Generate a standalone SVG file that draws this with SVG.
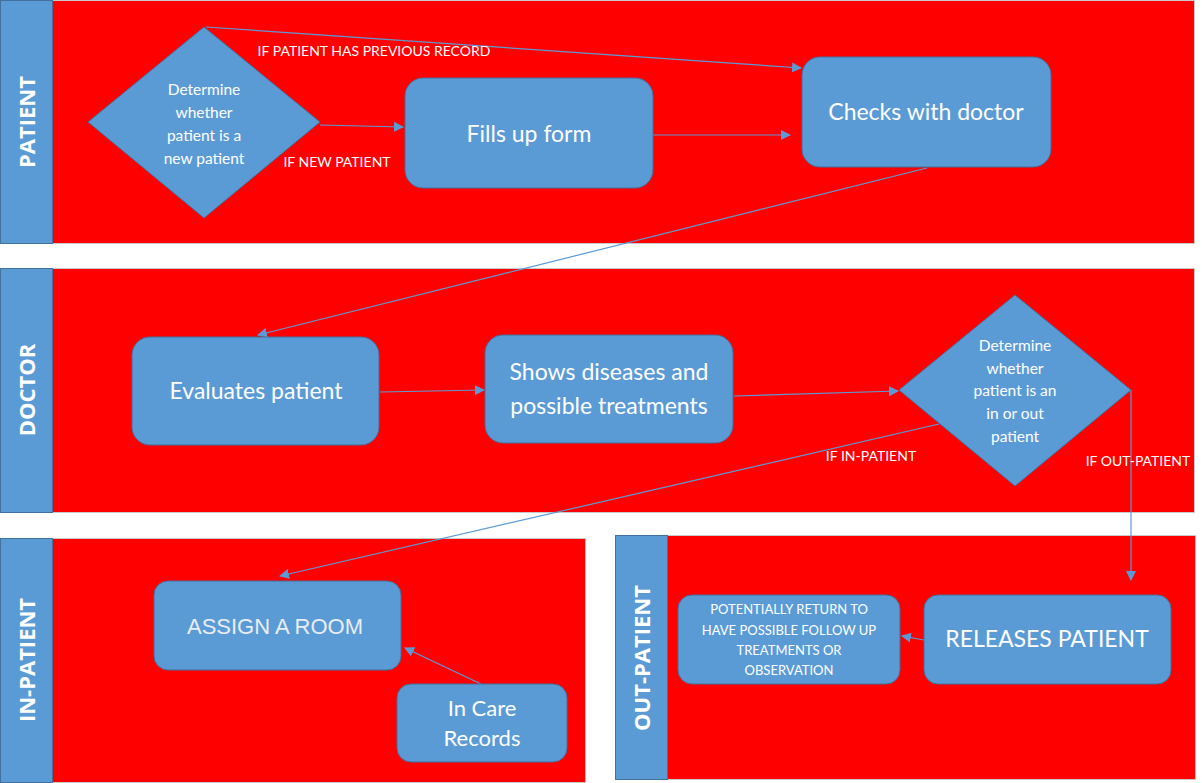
<svg xmlns="http://www.w3.org/2000/svg" width="1202" height="783" viewBox="0 0 1202 783">
<defs>
<style>
.lane{fill:#FF0000;stroke:#c9c9c9;stroke-width:1}
.hdr{fill:#5B9BD5;stroke:#41719C;stroke-width:1}
.hdrt{fill:#fff;font-family:"Open Sans","Liberation Sans",sans-serif;font-weight:bold;font-size:22px;text-anchor:middle}
.box{fill:#5B9BD5;stroke:#41719C;stroke-width:1}
.t{fill:#fff;font-family:Lato,"Liberation Sans",sans-serif;text-anchor:middle}
.big{font-size:23px}
.sm{font-size:15.5px}
.lbl{fill:#fff;font-family:Lato,"Liberation Sans",sans-serif;font-size:14px;text-anchor:middle}
.conn{fill:none;stroke:#5B9BD5;stroke-width:1.2}
</style>
<marker id="arr" viewBox="0 0 10 10" refX="9" refY="5" markerWidth="10" markerHeight="10" markerUnits="userSpaceOnUse" orient="auto">
<path d="M0,0 L10,5 L0,10 z" fill="#5B9BD5"/>
</marker>
</defs>

<g id="lane-patient">
<rect class="lane" x="0.5" y="0.5" width="1194" height="243"/>
<rect class="hdr" x="0.5" y="0.5" width="52" height="243"/>
<text class="hdrt" transform="translate(35,122) rotate(-90)">PATIENT</text>
</g>
<g id="lane-doctor">
<rect class="lane" x="0.5" y="268.5" width="1194" height="244"/>
<rect class="hdr" x="0.5" y="268.5" width="52" height="244"/>
<text class="hdrt" transform="translate(35,390) rotate(-90)">DOCTOR</text>
</g>
<g id="lane-inpatient">
<rect class="lane" x="0.5" y="538.5" width="585" height="244"/>
<rect class="hdr" x="0.5" y="538.5" width="52" height="244"/>
<text class="hdrt" transform="translate(35,660) rotate(-90)">IN-PATIENT</text>
</g>
<g id="lane-outpatient">
<rect class="lane" x="615.5" y="535.5" width="580" height="244"/>
<rect class="hdr" x="615.5" y="535.5" width="52" height="244"/>
<text class="hdrt" transform="translate(650,658) rotate(-90)">OUT-PATIENT</text>
</g>

<g id="connectors">
<line class="conn" x1="206" y1="27" x2="801" y2="68" marker-end="url(#arr)"/>
<line class="conn" x1="320" y1="125" x2="403" y2="127" marker-end="url(#arr)"/>
<line class="conn" x1="653" y1="135" x2="790" y2="135" marker-end="url(#arr)"/>
<line class="conn" x1="927" y1="168" x2="258" y2="335" marker-end="url(#arr)"/>
<line class="conn" x1="380" y1="392" x2="484" y2="390" marker-end="url(#arr)"/>
<line class="conn" x1="734" y1="396" x2="898" y2="391" marker-end="url(#arr)"/>
<line class="conn" x1="939" y1="424" x2="280" y2="576" marker-end="url(#arr)"/>
<polyline class="conn" points="1131,390 1131,580" marker-end="url(#arr)"/>
<line class="conn" x1="481" y1="684" x2="405" y2="648" marker-end="url(#arr)"/>
<line class="conn" x1="924" y1="640" x2="902" y2="636" marker-end="url(#arr)"/>
<text class="lbl" x="374" y="56">IF PATIENT HAS PREVIOUS RECORD</text>
<text class="lbl" x="337" y="167">IF NEW PATIENT</text>
<text class="lbl" x="871" y="461">IF IN-PATIENT</text>
<text class="lbl" x="1138" y="466">IF OUT-PATIENT</text>
</g>

<g id="decide-new">
<polygon class="box" points="204,27 320,122 204,218 88,122"/>
<text class="t sm" x="204" y="95">Determine</text>
<text class="t sm" x="204" y="118">whether</text>
<text class="t sm" x="204" y="141">patient is a</text>
<text class="t sm" x="204" y="164">new patient</text>
</g>
<g id="fills-form">
<rect class="box" x="405" y="78" width="248" height="110" rx="18"/>
<text class="t big" x="529" y="142">Fills up form</text>
</g>
<g id="checks-doctor">
<rect class="box" x="802" y="57" width="249" height="110" rx="18"/>
<text class="t big" x="926" y="120">Checks with doctor</text>
</g>
<g id="evaluates">
<rect class="box" x="132" y="337" width="247" height="108" rx="18"/>
<text class="t big" x="256" y="399">Evaluates patient</text>
</g>
<g id="shows">
<rect class="box" x="485" y="335" width="248" height="108" rx="18"/>
<text class="t big" x="609" y="380">Shows diseases and</text>
<text class="t big" x="609" y="414">possible treatments</text>
</g>
<g id="decide-inout">
<polygon class="box" points="1015,295 1131,390 1015,486 899,390"/>
<text class="t sm" x="1015" y="351">Determine</text>
<text class="t sm" x="1015" y="374">whether</text>
<text class="t sm" x="1015" y="396">patient is an</text>
<text class="t sm" x="1015" y="419">in or out</text>
<text class="t sm" x="1015" y="442">patient</text>
</g>
<g id="assign-room">
<rect class="box" x="154" y="581" width="247" height="89" rx="14"/>
<text x="275" y="634" fill="#e8edf2" font-family="'Liberation Sans',Arial,sans-serif" font-size="22" text-anchor="middle">ASSIGN A ROOM</text>
</g>
<g id="in-care">
<rect class="box" x="397" y="684" width="170" height="78" rx="14"/>
<text class="t" font-size="22" x="482" y="716">In Care</text>
<text class="t" font-size="22" x="482" y="746">Records</text>
</g>
<g id="potentially">
<rect class="box" x="678" y="595" width="222" height="89" rx="14"/>
<text class="t" font-size="13" x="789" y="614">POTENTIALLY RETURN TO</text>
<text class="t" font-size="13" x="789" y="635">HAVE POSSIBLE FOLLOW  UP</text>
<text class="t" font-size="13" x="789" y="655">TREATMENTS OR</text>
<text class="t" font-size="13" x="789" y="675">OBSERVATION</text>
</g>
<g id="releases">
<rect class="box" x="924" y="595" width="247" height="89" rx="14"/>
<text class="t" font-size="23" x="1047" y="647">RELEASES PATIENT</text>
</g>
</svg>
